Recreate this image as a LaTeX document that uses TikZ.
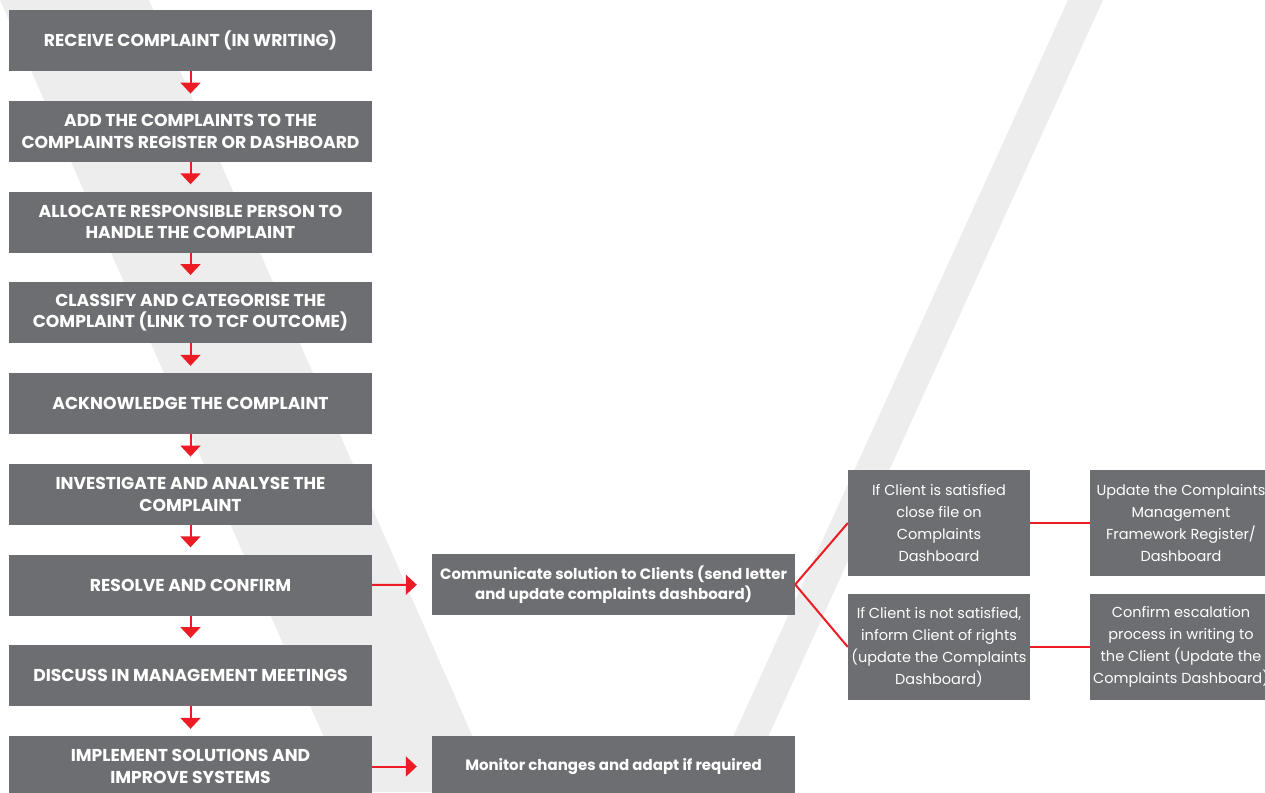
\documentclass[tikz,border=0pt]{standalone}
\usepackage{fontspec}
\setmainfont{Poppins}
\usepackage{xcolor}
\usetikzlibrary{arrows.meta,positioning}

\definecolor{boxgrey}{HTML}{6D6E71}
\definecolor{flowred}{HTML}{ED1C24}
\definecolor{bandgrey}{HTML}{EDEDED}

\begin{document}
\begin{tikzpicture}[x=1pt,y=-1pt,
    stepbox/.style={fill=boxgrey,text=white,inner sep=0pt,align=center,
      minimum width=363pt,minimum height=61pt,
      font=\bfseries\fontsize{17.2}{21.7}\selectfont},
    actbox/.style={stepbox,font=\bfseries\fontsize{15}{20.7}\selectfont},
    outbox/.style={fill=boxgrey,text=white,inner sep=0pt,align=center,
      minimum width=182pt,minimum height=106pt,
      font=\fontsize{14.5}{22}\selectfont},
    flow/.style={flowred,line width=2pt,-{Triangle[width=20pt,length=11pt]}},
    link/.style={flowred,line width=2pt}]
    \useasboundingbox (0,0) rectangle (1265,792);
    % background V
    \fill[bandgrey] (0,0) -- (149,0) -- (497,792) -- (348,792) -- cycle;
    \fill[bandgrey] (1068,0) -- (1103,0) -- (743,792) -- (708,792) -- cycle;
    % main steps
    \foreach \txt [count=\s] in {{RECEIVE COMPLAINT (IN WRITING)},
        {ADD THE COMPLAINTS TO THE\\COMPLAINTS REGISTER OR DASHBOARD},
        {ALLOCATE RESPONSIBLE PERSON TO\\HANDLE THE COMPLAINT},
        {CLASSIFY AND CATEGORISE THE\\COMPLAINT (LINK TO TCF OUTCOME)},
        {ACKNOWLEDGE THE COMPLAINT},
        {INVESTIGATE AND ANALYSE THE\\COMPLAINT},
        {RESOLVE AND CONFIRM},
        {DISCUSS IN MANAGEMENT MEETINGS},
        {IMPLEMENT SOLUTIONS AND\\IMPROVE SYSTEMS}} {
      \node[stepbox] (step\s) at (190.5,{40.5+(\s-1)*90.75}) {\txt};
    }
    \foreach \s in {1,...,8} {
      \draw[flow,shorten >=7pt] (step\s) -- (step\the\numexpr\s+1\relax);
    }
    % side actions
    \node[actbox] (communicate) at (613.5,584.5) {Communicate solution to Clients (send letter\\and update complaints dashboard)};
    \node[actbox] (monitor) at (613.5,766.5) {Monitor changes and adapt if required};
    \draw[flow,shorten >=15pt] (step7) -- (communicate);
    \draw[flow,shorten >=15pt] (step9) -- (monitor);
    % outcomes
    \node[outbox] (satisfied) at (939,523) {If Client is satisfied\\close file on\\Complaints\\Dashboard};
    \node[outbox] (notsatisfied) at (939,647) {If Client is not satisfied,\\inform Client of rights\\(update the Complaints\\Dashboard)};
    \node[outbox] (register) at (1181,523) {Update the Complaints\\Management\\Framework Register/\\Dashboard};
    \node[outbox] (escalate) at (1181,647) {Confirm escalation\\process in writing to\\the Client (Update the\\Complaints Dashboard)};
    \draw[link] (communicate.east) -- (satisfied.west);
    \draw[link] (communicate.east) -- (notsatisfied.west);
    \draw[link] (satisfied) -- (register);
    \draw[link] (notsatisfied) -- (escalate);
\end{tikzpicture}
\end{document}
